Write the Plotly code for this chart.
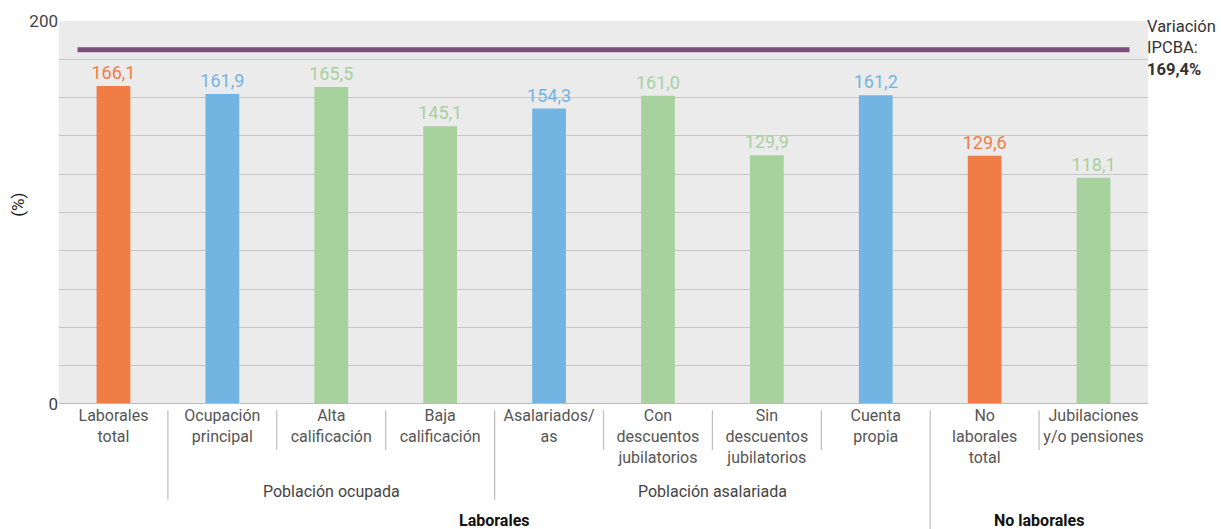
import plotly.graph_objects as go

categories = ["Laborales<br>total", "Ocupación<br>principal", "Alta<br>calificación", "Baja<br>calificación",
              "Asalariados/<br>as", "Con<br>descuentos<br>jubilatorios", "Sin<br>descuentos<br>jubilatorios",
              "Cuenta<br>propia", "No<br>laborales<br>total", "Jubilaciones<br>y/o pensiones"]
values = [166.1, 161.9, 165.5, 145.1, 154.3, 161.0, 129.9, 161.2, 129.6, 118.1]
bar_colors = ["#EF7D45", "#74B4E3", "#A7D29E", "#A7D29E", "#74B4E3", "#A7D29E", "#A7D29E",
              "#74B4E3", "#EF7D45", "#A7D29E"]
ipcba = 169.4
ipcba_line_level = 185  # drawn level of reference line in the original

x = list(range(len(categories)))
labels = [f"{v:.1f}".replace(".", ",") for v in values]

fig = go.Figure()
fig.add_trace(go.Bar(
    x=x, y=values, width=0.31, marker=dict(color=bar_colors, line=dict(width=0)),
    text=labels, textposition="outside", cliponaxis=False, constraintext="none",
    textfont=dict(color=bar_colors, size=18, family="Roboto"),
    hoverinfo="skip",
))
fig.add_trace(go.Scatter(
    x=[-0.33, 9.33], y=[ipcba_line_level, ipcba_line_level], mode="lines",
    line=dict(color="#7D4F7B", width=5), hoverinfo="skip",
))

yt = list(range(0, 201, 20))
fig.update_layout(
    width=1221, height=529, margin=dict(l=59, r=73, t=21, b=125),
    plot_bgcolor="#EBEBEB", paper_bgcolor="white", showlegend=False,
    font=dict(family="Roboto, Arial", color="#444444"),
    xaxis=dict(range=[-0.5, 9.5], tickvals=x, ticktext=categories, ticks="", automargin=False,
               tickfont=dict(size=16, color="#555555"), showgrid=False, zeroline=False),
    yaxis=dict(range=[0, 200], tickvals=yt, ticktext=["0"] + [""] * 9 + ["200"], automargin=False,
               gridcolor="#C6C6C6", gridwidth=1.3, zeroline=False, showline=False,
               tickfont=dict(size=17, color="#444444"), ticks="", ticklen=0),
)

fig.add_annotation(x=0, y=0.52, xref="paper", yref="paper", xanchor="center", xshift=-41,
                   showarrow=False, text="(%)", textangle=-90, font=dict(size=17, color="#222222"))

# baseline
fig.add_shape(type="line", xref="paper", yref="y", x0=0, x1=1, y0=0, y1=0,
              line=dict(color="#BBBBBB", width=2))

# separators below axis
sep_depth = {0: -0.25, 1: -0.12, 2: -0.12, 3: -0.25, 4: -0.12, 5: -0.12, 6: -0.12, 7: -0.33, 8: -0.12}
for i, d in sep_depth.items():
    fig.add_shape(type="line", xref="x", yref="paper", x0=i + 0.5, x1=i + 0.5, y0=-0.016, y1=d,
                  line=dict(color="#BDBDBD", width=1.2))

groups = [("Población ocupada", 2, -0.228, False), ("Población asalariada", 5.5, -0.228, False),
          ("Laborales", 3.5, -0.305, True), ("No laborales", 8.5, -0.305, True)]
for txt, gx, gy, bold in groups:
    fig.add_annotation(x=gx, y=gy, xref="x", yref="paper", showarrow=False,
                       text=f"<b>{txt}</b>" if bold else txt, yanchor="middle",
                       font=dict(size=16, color="#111111" if bold else "#444444"))

fig.add_annotation(x=1.0, y=1.015, xref="paper", yref="paper", xanchor="left", yanchor="top",
                   showarrow=False, align="left", xshift=-3,
                   text=f"Variación<br>IPCBA:<br><b>{ipcba:.1f}%</b>".replace(".", ","),
                   font=dict(size=16.5, color="#333333"))

fig.write_html("out.html", config={"displayModeBar": False},
               post_script="document.body.style.margin='0';")
